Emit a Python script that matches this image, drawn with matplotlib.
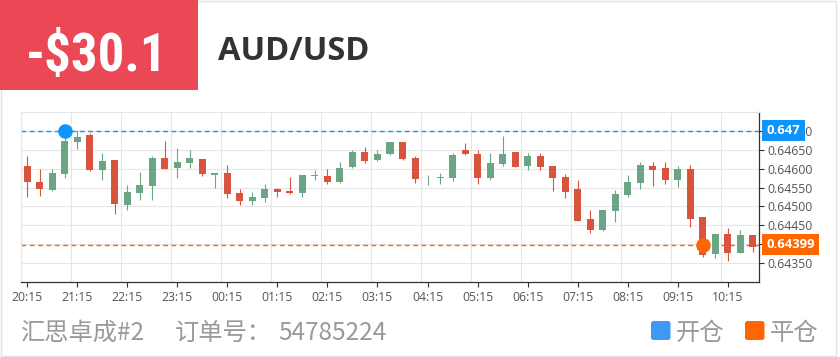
import numpy as np
import matplotlib.pyplot as plt
from matplotlib.patches import Rectangle, FancyBboxPatch
from matplotlib.transforms import blended_transform_factory

# --- данные: свечи AUD/USD, 15 минут ---
opens = [0.64607, 0.64564, 0.64543, 0.64585, 0.64671, 0.64688, 0.64597, 0.64622, 0.64505, 0.64536,
         0.64555, 0.64627, 0.64601, 0.64615, 0.64624, 0.64584, 0.64588, 0.64535, 0.64514, 0.64522,
         0.64546, 0.64540, 0.64536, 0.64580, 0.64581, 0.64564, 0.64603, 0.64643, 0.64622, 0.64638,
         0.64669, 0.64628, 0.64574, 0.64575, 0.64576, 0.64648, 0.64638, 0.64575, 0.64611, 0.64643,
         0.64607, 0.64633, 0.64606, 0.64578, 0.64546, 0.64467, 0.64437, 0.64489, 0.64531, 0.64563,
         0.64608, 0.64601, 0.64571, 0.64598, 0.64471, 0.64374, 0.64427, 0.64378, 0.64424]
closes = [0.64565, 0.64546, 0.64587, 0.64673, 0.64683, 0.64596, 0.64620, 0.64506, 0.64539, 0.64556,
          0.64627, 0.64599, 0.64617, 0.64627, 0.64585, 0.64588, 0.64533, 0.64514, 0.64525, 0.64547,
          0.64537, 0.64536, 0.64582, 0.64582, 0.64565, 0.64601, 0.64643, 0.64620, 0.64638, 0.64669,
          0.64624, 0.64572, 0.64576, 0.64578, 0.64637, 0.64638, 0.64575, 0.64614, 0.64639, 0.64604,
          0.64634, 0.64603, 0.64576, 0.64538, 0.64463, 0.64437, 0.64490, 0.64533, 0.64565, 0.64609,
          0.64597, 0.64571, 0.64598, 0.64468, 0.64372, 0.64427, 0.64378, 0.64425, 0.64394]
highs = [0.64632, 0.64600, 0.64598, 0.64685, 0.64703, 0.64694, 0.64640, 0.64622, 0.64556, 0.64592,
         0.64632, 0.64672, 0.64653, 0.64648, 0.64624, 0.64589, 0.64609, 0.64546, 0.64538, 0.64559,
         0.64548, 0.64578, 0.64582, 0.64597, 0.64598, 0.64618, 0.64648, 0.64656, 0.64649, 0.64669,
         0.64669, 0.64633, 0.64584, 0.64589, 0.64640, 0.64667, 0.64649, 0.64641, 0.64685, 0.64643,
         0.64640, 0.64641, 0.64608, 0.64585, 0.64571, 0.64491, 0.64490, 0.64543, 0.64583, 0.64618,
         0.64618, 0.64617, 0.64606, 0.64610, 0.64471, 0.64427, 0.64443, 0.64438, 0.64424]
lows = [0.64525, 0.64528, 0.64541, 0.64576, 0.64651, 0.64594, 0.64569, 0.64479, 0.64490, 0.64516,
        0.64518, 0.64599, 0.64576, 0.64602, 0.64580, 0.64549, 0.64522, 0.64504, 0.64503, 0.64512,
        0.64525, 0.64532, 0.64525, 0.64571, 0.64560, 0.64562, 0.64601, 0.64614, 0.64619, 0.64636,
        0.64622, 0.64562, 0.64557, 0.64560, 0.64568, 0.64636, 0.64560, 0.64570, 0.64607, 0.64604,
        0.64597, 0.64597, 0.64541, 0.64523, 0.64461, 0.64431, 0.64436, 0.64459, 0.64526, 0.64547,
        0.64555, 0.64558, 0.64552, 0.64447, 0.64366, 0.64364, 0.64357, 0.64378, 0.64380]

hour_labels = ["20:15", "21:15", "22:15", "23:15", "00:15", "01:15", "02:15", "03:15",
               "04:15", "05:15", "06:15", "07:15", "08:15", "09:15", "10:15"]
price_ticks = [0.6435, 0.6440, 0.6445, 0.6450, 0.6455, 0.6460, 0.6465, 0.6470]
price_labels = ["0.64350", "", "0.64450", "0.64500", "0.64550", "0.64600", "0.64650", "0.64700"]

open_idx, open_price, open_tag = 3, 0.64700, "0.647"
close_idx, close_price, close_tag = 54, 0.64399, "0.64399"

pnl_text = "-$30.1"
symbol = "AUD/USD"
account = "汇思卓成#2"
order_label = "订单号："
order_no = "54785224"
legend_labels = ["开仓", "平仓"]

RED = "#d9543f"
GREEN = "#6ba684"
BLUE = "#0f94fb"
ORANGE = "#ff6600"
GRID = "#e6e6e6"

plt.rcParams['font.family'] = ['Open Sans', 'DejaVu Sans']

W, H = 840, 357
fig = plt.figure(figsize=(W / 100, H / 100), dpi=100)
inch = fig.dpi_scale_trans


def px(x, y):
    # пиксели (сверху-слева) -> дюймы (снизу-слева)
    return x / 100, (H - y) / 100


# рамка карточки и шапка
fig.patches.append(Rectangle(px(0.5, 355.5), 8.355, 3.55, transform=inch,
                             fill=False, edgecolor="#e3e3e3", lw=1))
fig.patches.append(Rectangle(px(0, 90), 1.98, 0.90, transform=inch,
                             facecolor="#eb4856", edgecolor="none"))
fig.text(*px(97, 71), pnl_text, transform=inch, ha='center', va='baseline',
         color='white', fontsize=38, fontweight='bold',
         family=['Roboto Condensed', 'Liberation Sans Narrow', 'Roboto', 'DejaVu Sans'])
fig.text(*px(218, 60), symbol, transform=inch, ha='left', va='baseline',
         color='#333333', fontsize=23.5, fontweight='bold')

# --- график ---
ax_l, ax_r, ax_t, ax_b = 21, 759, 111.7, 282.3
ax = fig.add_axes([ax_l / W, 1 - ax_b / H, (ax_r - ax_l) / W, (ax_b - ax_t) / H])
ylo, yhi = 0.6430, 0.6475

o, c, h, l = map(np.array, (opens, closes, highs, lows))
x = np.arange(len(o))
colors = np.where(c >= o, GREEN, RED)
ax.vlines(x, l, h, colors=colors, lw=0.8, zorder=3)
ax.bar(x, np.maximum(np.abs(c - o), 0.000012), bottom=np.minimum(o, c),
       width=0.56, color=colors, linewidth=0, zorder=4)

ax.axhline(open_price, color=BLUE, lw=1.0, ls=(0, (3.5, 2.5)), zorder=2)
ax.axhline(close_price, color=ORANGE, lw=1.0, ls=(0, (3.5, 2.5)), zorder=2)
ax.plot(open_idx, open_price, 'o', ms=10.5, color=BLUE, mew=0, zorder=6, clip_on=False)
ax.plot(close_idx, close_price, 'o', ms=10.5, color=ORANGE, mew=0, zorder=6, clip_on=False)

ax.set_xlim(-0.5, len(o) - 0.5)
ax.set_ylim(ylo, yhi)
ax.set_xticks(np.arange(0, len(o), 4))
ax.set_xticklabels(hour_labels)
ax.set_xticks(np.arange(-0.5, len(o), 4), minor=True)
ax.set_yticks(price_ticks)
ax.set_yticklabels(price_labels)
ax.yaxis.tick_right()
ax.grid(True, which='minor', axis='x', color=GRID, lw=0.8)
ax.grid(True, which='major', axis='y', color=GRID, lw=0.8)
ax.set_axisbelow(True)
ax.tick_params(axis='x', which='minor', length=0)
ax.tick_params(axis='both', which='major', length=3.5, width=0.8, color='#333333',
               labelsize=8.8, labelcolor='#555555', pad=2.5)
for side in ('top', 'left'):
    ax.spines[side].set_color(GRID)
    ax.spines[side].set_linewidth(0.8)
for side in ('bottom', 'right'):
    ax.spines[side].set_color('#333333')
    ax.spines[side].set_linewidth(0.9)

# ценовые метки справа (поверх подписей оси, как в оригинале)
trans = blended_transform_factory(ax.transAxes, ax.transData)
axw = ax_r - ax_l
hdata = 21 / (ax_b - ax_t) * (yhi - ylo)
for price, tag, col, wpx in ((open_price, open_tag, BLUE, 43), (close_price, close_tag, ORANGE, 57)):
    ax.add_patch(Rectangle((1 + 3 / axw, price - hdata / 2), wpx / axw, hdata, transform=trans,
                           facecolor=col, edgecolor='none', clip_on=False, zorder=10))
    ax.text(1 + (3 + wpx / 2) / axw, price, tag, transform=trans, ha='center', va='center',
            color='white', fontsize=9.4, fontweight='bold', zorder=11, clip_on=False)

# --- подвал ---
cjk = ['Noto Sans CJK SC', 'DejaVu Sans']
fig.text(*px(21, 339.5), account, transform=inch, color='#999999', fontsize=17.5, family=cjk)
fig.text(*px(175, 339.5), order_label, transform=inch, color='#999999', fontsize=17.5, family=cjk)
fig.text(*px(278, 339.5), order_no, transform=inch, color='#999999', fontsize=17.5, family=cjk)

for (sx, tx), col, lab in zip(((651, 676), (745, 770)), ("#3d98f8", ORANGE), legend_labels):
    fig.patches.append(FancyBboxPatch(px(sx, 340), 0.195, 0.19, transform=inch,
                                      boxstyle="round,pad=0,rounding_size=0.025",
                                      facecolor=col, edgecolor='none'))
    fig.text(*px(tx, 339.5), lab, transform=inch, color='#999999', fontsize=17.5, family=cjk)

fig.savefig('out.png', dpi=100)
